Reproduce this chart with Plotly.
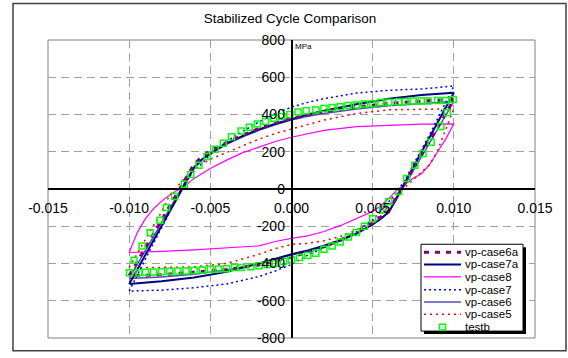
import plotly.graph_objects as go

# ---------------- data ----------------
strain_up = [-0.0100, -0.0095, -0.0090, -0.0085, -0.0080, -0.0075, -0.0070, -0.0065, -0.0060, -0.0055, -0.0050,
             -0.0040, -0.0030, -0.0020, -0.0010, 0.0000, 0.0010, 0.0020, 0.0040, 0.0060, 0.0080, 0.0100]
strain_down = [0.0100, 0.0095, 0.0090, 0.0085, 0.0080, 0.0075, 0.0070, 0.0065, 0.0060, 0.0055, 0.0050,
               0.0040, 0.0030, 0.0020, 0.0010, 0.0000, -0.0010, -0.0020, -0.0040, -0.0060, -0.0080, -0.0100]

case6a_up = [-465, -390, -315, -240, -165, -90, -15, 60, 134, 175, 205, 250, 290, 325, 355, 378, 398, 415, 440, 460, 472, 481]
case6a_down = [481, 405, 330, 255, 180, 105, 30, -45, -115, -150, -180, -232, -275, -310, -340, -365, -387, -408, -432, -448, -460, -465]

case7a_up = [-510, -432, -354, -276, -198, -120, -42, 36, 114, 160, 190, 245, 285, 320, 350, 375, 400, 420, 455, 485, 505, 517]
case7a_down = [517, 437, 357, 277, 197, 117, 37, -43, -123, -160, -190, -240, -275, -305, -330, -350, -375, -400, -445, -475, -495, -510]

case8_up = [-341, -234, -159, -106, -65, -32, -5, 22, 57, 85, 110, 155, 195, 225, 255, 278, 295, 315, 335, 342, 348, 350]
case8_down = [350, 268, 200, 130, 82, 58, 25, -5, -50, -90, -120, -160, -197, -228, -252, -265, -282, -305, -318, -327, -335, -341]

case7_up = [-548, -460, -376, -291, -207, -122, -38, 45, 95, 140, 185, 255, 310, 360, 405, 440, 465, 485, 515, 530, 537, 553]
case7_down = [553, 465, 375, 290, 210, 130, 50, -15, -70, -120, -165, -230, -275, -315, -355, -405, -440, -470, -510, -530, -543, -548]

case6_up = [-480, -405, -330, -255, -180, -105, -30, 45, 120, 160, 190, 240, 280, 315, 345, 370, 390, 405, 430, 447, 457, 470]
case6_down = [470, 395, 320, 245, 170, 95, 20, -55, -125, -160, -190, -240, -280, -310, -335, -355, -378, -400, -435, -458, -472, -480]

case5_up = [-421, -346, -272, -197, -122, -32, 15, 65, 105, 135, 160, 195, 232, 268, 298, 322, 350, 370, 405, 425, 428, 430]
case5_down = [430, 320, 205, 130, 90, 55, 15, -30, -90, -140, -172, -220, -255, -278, -292, -297, -320, -350, -400, -418, -421, -421]

testb_strain = [-0.00998, -0.0097, -0.0092, -0.0087, -0.0081, -0.0077, -0.0072, -0.0066, -0.0062, -0.0057, -0.0052,
                -0.0047, -0.0042, -0.0037, -0.0031, -0.0026, -0.0021, -0.0016, -0.0011, -0.0006, -0.0001, 0.0004,
                0.0009, 0.0015, 0.0020, 0.0025, 0.0030, 0.0035, 0.0040, 0.0045, 0.0050, 0.0055, 0.0060, 0.0066,
                0.0070, 0.0075, 0.0080, 0.0084, 0.0090, 0.0095, 0.00996,
                0.0096, 0.0092, 0.0086, 0.0081, 0.0076, 0.0071, 0.0066, 0.0060, 0.0056, 0.0050, 0.0045, 0.0040,
                0.0035, 0.0030, 0.0025, 0.0020, 0.0015, 0.0010, 0.0005, 0.0000, -0.0005, -0.0010, -0.0015, -0.0020,
                -0.0025, -0.0031, -0.0035, -0.0040, -0.0045, -0.0050, -0.0055, -0.0060, -0.0065, -0.0070, -0.0075,
                -0.0080, -0.0085, -0.0090, -0.0094]
testb_stress = [-449, -382, -306, -235, -168, -99, -40, 25, 78, 127, 175,
                214, 246, 281, 311, 331, 349, 364, 380, 389, 400, 414,
                420, 424, 432, 437, 442, 448, 451, 456, 458, 464, 466, 468,
                470, 472, 472, 472, 475, 475, 480,
                410, 336, 251, 191, 127, 57, -14, -67, -111, -160, -200, -233,
                -258, -284, -306, -323, -345, -357, -368, -380, -389, -400, -406, -412,
                -417, -421, -422, -428, -430, -431, -435, -437, -440, -440, -442,
                -444, -446, -447, -449]

x_tick_vals = [-0.015, -0.010, -0.005, 0.0, 0.005, 0.010, 0.015]
x_tick_labels = ["-0.015", "-0.010", "-0.005", "0.000", "0.005", "0.010", "0.015"]
y_tick_vals = [-800, -600, -400, -200, 0, 200, 400, 600, 800]
y_tick_labels = ["-800", "-600", "-400", "-200", "0", "200", "400", "600", "800"]

series_names = ["vp-case6a", "vp-case7a", "vp-case8", "vp-case7", "vp-case6", "vp-case5", "testb"]

# ---------------- styles ----------------
styles = {
    "vp-case6a": dict(color="#800080", width=3, dash="5px,6px"),
    "vp-case7a": dict(color="#000080", width=2, dash="solid"),
    "vp-case8": dict(color="#ff00ff", width=1.2, dash="solid"),
    "vp-case7": dict(color="#0000ff", width=1.5, dash="2px,3px"),
    "vp-case6": dict(color="#5050b0", width=1.5, dash="solid"),
    "vp-case5": dict(color="#ff0000", width=1.5, dash="2px,4px"),
}

loops = {
    "vp-case6a": (case6a_up, case6a_down),
    "vp-case7a": (case7a_up, case7a_down),
    "vp-case8": (case8_up, case8_down),
    "vp-case7": (case7_up, case7_down),
    "vp-case6": (case6_up, case6_down),
    "vp-case5": (case5_up, case5_down),
}

fig = go.Figure()
draw_order = ["vp-case8", "vp-case5", "vp-case6", "vp-case7", "vp-case7a", "vp-case6a"]
for name in draw_order:
    up, down = loops[name]
    fig.add_trace(go.Scatter(
        x=strain_up + strain_down, y=up + down, mode="lines", name=name,
        line=styles[name], showlegend=False, hoverinfo="skip"))

fig.add_trace(go.Scatter(
    x=testb_strain, y=testb_stress, mode="markers", name="testb",
    marker=dict(symbol="square-open", size=6, color="#00ff00", line=dict(width=1.5, color="#00ff00")),
    showlegend=False, hoverinfo="skip"))

# ---------------- layout helpers (pixel -> paper) ----------------
L_PX, R_PX, T_PX, B_PX = 48, 535, 40, 342
W, H = 568, 358


def px(x):
    return (x - L_PX) / (R_PX - L_PX)


def py(y):
    return (B_PX - y) / (B_PX - T_PX)


shapes = []
annotations = []

# outer chart frame
shapes.append(dict(type="rect", xref="paper", yref="paper", x0=px(13), x1=px(566), y0=py(355), y1=py(3),
                   line=dict(color="#404040", width=1.5), layer="below"))
# plot-area border
shapes.append(dict(type="rect", xref="paper", yref="paper", x0=0, x1=1, y0=0, y1=1,
                   line=dict(color="#808080", width=1), layer="below"))

# manual legend
lg_l, lg_t, lg_r, lg_b = 421, 247, 523, 335
shapes.append(dict(type="rect", xref="paper", yref="paper", x0=px(lg_l + 3), x1=px(lg_r + 3),
                   y0=py(lg_b + 3), y1=py(lg_t + 3), fillcolor="black", line=dict(width=0)))
shapes.append(dict(type="rect", xref="paper", yref="paper", x0=px(lg_l), x1=px(lg_r),
                   y0=py(lg_b), y1=py(lg_t), fillcolor="white", line=dict(color="black", width=1)))
row_y = [255, 267.5, 280, 293, 305.5, 318, 331]
for name, ry in zip(series_names, row_y):
    if name == "testb":
        shapes.append(dict(type="rect", xref="paper", yref="paper", x0=px(439.5), x1=px(445.5),
                           y0=py(ry + 3), y1=py(ry - 3), line=dict(color="#00ff00", width=1.5)))
    else:
        st = styles[name]
        shapes.append(dict(type="line", xref="paper", yref="paper", x0=px(424), x1=px(461),
                           y0=py(ry), y1=py(ry), line=dict(color=st["color"], width=st["width"], dash=st["dash"])))
    annotations.append(dict(text=name, xref="paper", yref="paper", x=px(463), y=py(ry),
                            xanchor="left", yanchor="middle", showarrow=False,
                            font=dict(family="Liberation Sans, Arial", size=11.5, color="black")))

# unit label
annotations.append(dict(text="MPa", xref="paper", yref="paper", x=px(293), y=py(47),
                        xanchor="left", yanchor="middle", showarrow=False,
                        font=dict(family="Liberation Sans, Arial", size=8, color="black")))

fig.update_layout(
    width=W, height=H,
    margin=dict(l=L_PX, r=W - R_PX, t=T_PX, b=H - B_PX, pad=0),
    paper_bgcolor="white", plot_bgcolor="white",
    title=dict(text="Stabilized Cycle Comparison", x=px(290), xref="paper", xanchor="center",
               y=1 - 18 / H, yanchor="middle",
               font=dict(family="Liberation Sans, Arial", size=13.5, color="black")),
    xaxis=dict(range=[-0.015, 0.015], tickvals=x_tick_vals, ticktext=x_tick_labels,
               showgrid=True, gridcolor="#a0a0a0", griddash="8px,5px", gridwidth=1,
               zeroline=False, showline=True, linecolor="black", linewidth=1.5,
               anchor="free", position=0.5, ticks="", ticklabelstandoff=6,
               tickfont=dict(family="Liberation Sans, Arial", size=14, color="black")),
    yaxis=dict(range=[-800, 800], tickvals=y_tick_vals, ticktext=y_tick_labels,
               showgrid=True, gridcolor="#a0a0a0", griddash="8px,5px", gridwidth=1,
               zeroline=False, showline=True, linecolor="black", linewidth=1.5,
               anchor="free", position=0.5, ticks="", ticklabelstandoff=3,
               tickfont=dict(family="Liberation Sans, Arial", size=14, color="black")),
    shapes=shapes,
    annotations=annotations,
    showlegend=False,
)

fig.write_html("out.html")
